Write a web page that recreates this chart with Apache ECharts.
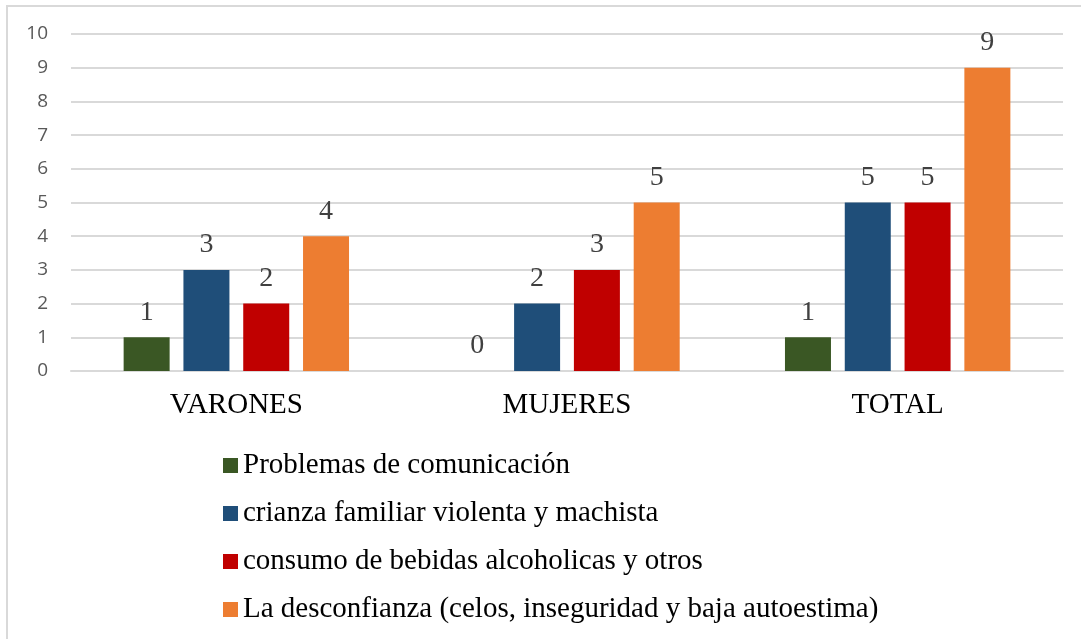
<!DOCTYPE html>
<html>
<head>
<meta charset="utf-8">
<script src="https://cdn.jsdelivr.net/npm/echarts@6/dist/echarts.min.js"></script>
<style>
  html, body { margin: 0; padding: 0; background: #fff; }
  #chart { width: 1081px; height: 639px; }
</style>
</head>
<body>
<div id="chart"></div>
<script>
const categories = ['VARONES', 'MUJERES', 'TOTAL'];
const seriesNames = [
  'Problemas de comunicación',
  'crianza familiar violenta y machista',
  'consumo de bebidas alcoholicas y otros',
  'La desconfianza (celos, inseguridad y baja autoestima)'
];
const comunicacion = [1, 0, 1];
const crianza = [3, 2, 5];
const consumo = [2, 3, 5];
const desconfianza = [4, 5, 9];
const colors = ['#3A5724', '#1F4E79', '#C00000', '#ED7D31'];

function makeSeries(name, values, color) {
  return {
    name: name,
    type: 'bar',
    data: values,
    barWidth: 46,
    barGap: '30%',
    itemStyle: { color: color },
    label: {
      show: true,
      position: 'top',
      distance: 11,
      fontFamily: 'Liberation Serif',
      fontSize: 28,
      color: '#404040'
    }
  };
}

const chart = echarts.init(document.getElementById('chart'));
chart.setOption({
  animation: false,
  color: colors,
  graphic: [{
    type: 'rect',
    shape: { x: 7, y: 6, width: 1200, height: 800 },
    style: { fill: 'none', stroke: '#D9D9D9', lineWidth: 2 },
    silent: true
  }],
  grid: { left: 71, right: 18, top: 34, bottom: 268 },
  xAxis: {
    type: 'category',
    data: categories,
    axisLine: { show: true, lineStyle: { color: '#D9D9D9', width: 2 } },
    axisTick: { show: false },
    axisLabel: {
      fontFamily: 'Liberation Serif',
      fontSize: 29,
      color: '#000',
      margin: 20
    }
  },
  yAxis: {
    type: 'value',
    min: 0,
    max: 10,
    interval: 1,
    axisLine: { show: false },
    axisTick: { show: false },
    axisLabel: {
      fontFamily: 'Open Sans',
      fontSize: 19,
      color: '#595959',
      margin: 23
    },
    splitLine: { lineStyle: { color: '#D9D9D9', width: 2 } }
  },
  legend: {
    orient: 'vertical',
    left: 218,
    top: 446,
    itemWidth: 15,
    itemHeight: 15,
    itemGap: 19,
    icon: 'rect',
    textStyle: {
      fontFamily: 'Liberation Serif',
      fontSize: 29,
      color: '#000'
    },
    data: seriesNames
  },
  series: [
    makeSeries(seriesNames[0], comunicacion, colors[0]),
    makeSeries(seriesNames[1], crianza, colors[1]),
    makeSeries(seriesNames[2], consumo, colors[2]),
    makeSeries(seriesNames[3], desconfianza, colors[3])
  ]
});
</script>
</body>
</html>
